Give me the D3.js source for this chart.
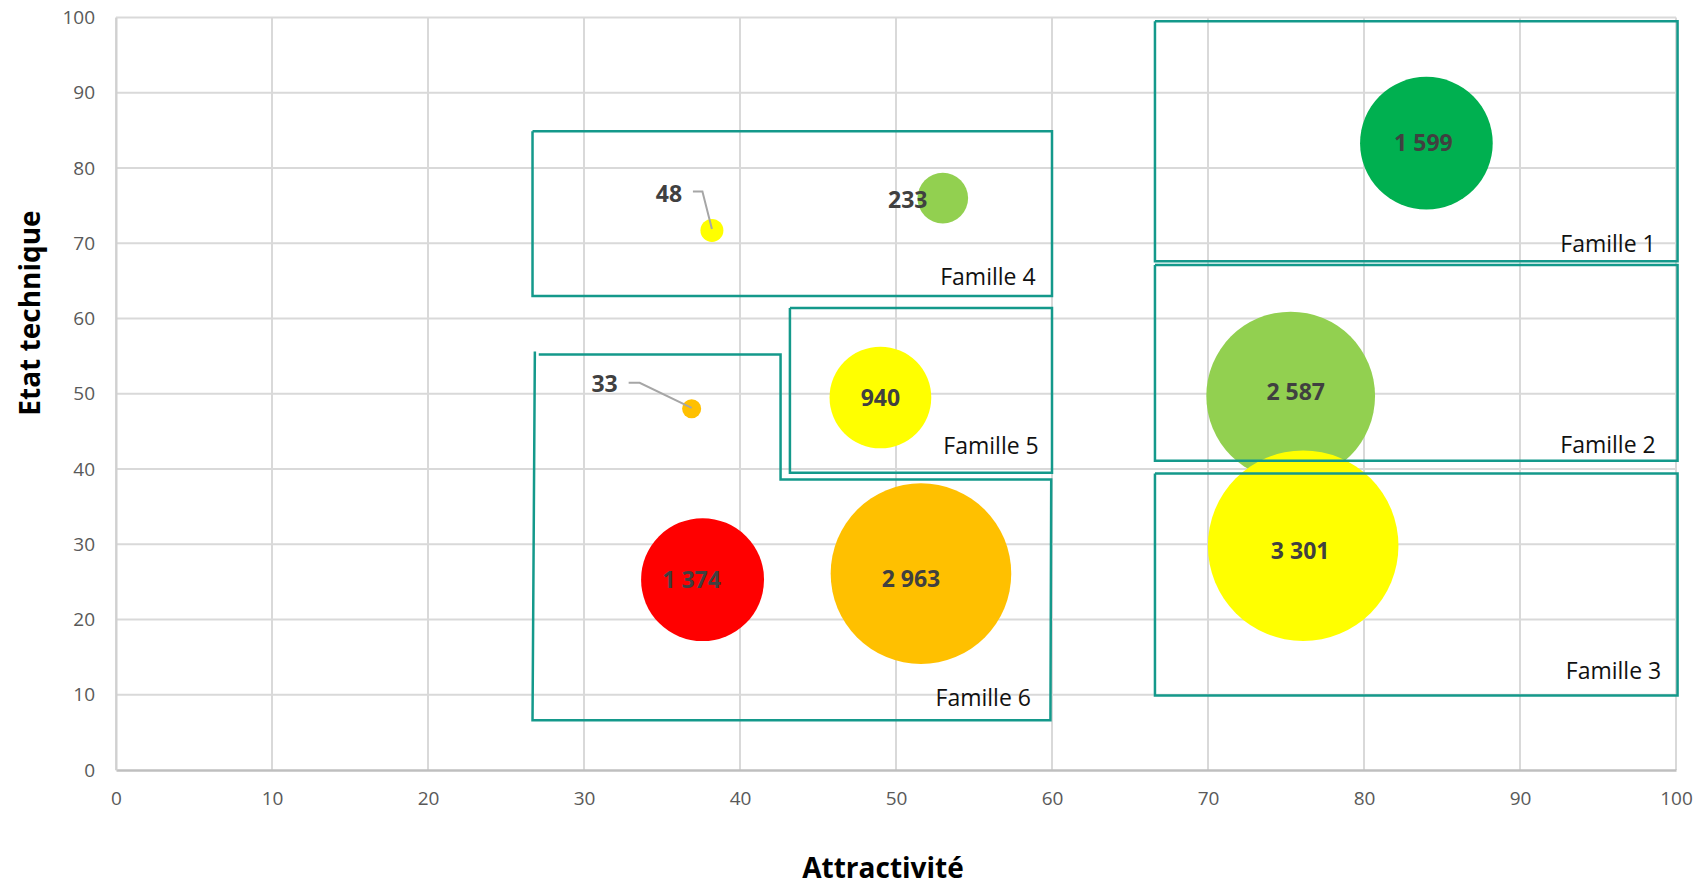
<!DOCTYPE html>
<html>
<head>
<meta charset="utf-8">
<script src="https://cdn.jsdelivr.net/npm/d3@7"></script>
<style>
  body { margin: 0; background: #fff; }
  svg { display: block; font-family: "Open Sans", "Noto Sans", sans-serif; }
</style>
</head>
<body>
<div id="chart"></div>
<script>
// bubble data: attractivité, état technique, volume
var bubbleLabels = ["1 599", "2 587", "3 301", "233", "48", "940", "33", "1 374", "2 963"];
var attractivite = [84.0, 75.3, 76.1, 53.0, 38.2, 49.0, 36.9, 37.6, 51.6];
var etatTechnique = [83.3, 49.7, 29.8, 76.0, 71.7, 49.5, 48.0, 25.3, 26.1];
var volumes = [1599, 2587, 3301, 233, 48, 940, 33, 1374, 2963];
var bubbleColors = ["#00B050", "#92D050", "#FFFF00", "#92D050", "#FFFF00", "#FFFF00", "#FFC000", "#FF0000", "#FFC000"];

var xTicks = [0, 10, 20, 30, 40, 50, 60, 70, 80, 90, 100];
var yTicks = [0, 10, 20, 30, 40, 50, 60, 70, 80, 90, 100];

// family outlines, in chart units (x, y)
var familyNames = ["Famille 1", "Famille 2", "Famille 3", "Famille 4", "Famille 5", "Famille 6"];
var familyShapes = [
    [[66.6, 99.5], [100.1, 99.5], [100.1, 67.6], [66.6, 67.6], [66.6, 99.5]],
    [[66.6, 67.1], [100.1, 67.1], [100.1, 41.1], [66.6, 41.1], [66.6, 67.1]],
    [[66.6, 39.4], [100.1, 39.4], [100.1, 9.9], [66.6, 9.9], [66.6, 39.4]],
    [[26.7, 84.9], [60.0, 84.9], [60.0, 63.0], [26.7, 63.0], [26.7, 84.9]],
    [[43.2, 61.4], [60.0, 61.4], [60.0, 39.5], [43.2, 39.5], [43.2, 61.4]],
    [[26.85, 55.6], [26.7, 6.6], [59.9, 6.6], [59.95, 38.6], [42.6, 38.6], [42.6, 55.2], [27.1, 55.2]]
];
var familyLabelX = [98.7, 98.7, 99.05, 58.95, 59.15, 58.65];
var familyLabelY = [68.8, 42.1, 12.05, 64.45, 41.95, 8.55];

var width = 1699, height = 888;
var margin = {left: 116, right: 23, top: 17.5, bottom: 118};

var svg = d3.select("#chart")
    .append("svg")
        .attr("width", width)
        .attr("height", height);

var x = d3.scaleLinear().domain([0, 100]).range([margin.left, width - margin.right]);
var y = d3.scaleLinear().domain([0, 100]).range([height - margin.bottom, margin.top]);
var r = d3.scaleSqrt().domain([0, 3301]).range([0, 95.3]);

// gridlines
svg.append("g")
    .selectAll("line")
    .data(yTicks.filter(d => d > 0))
    .enter()
    .append("line")
    .attr("x1", x(0))
    .attr("x2", x(100))
    .attr("y1", d => y(d))
    .attr("y2", d => y(d))
    .style("stroke", "#d9d9d9")
    .style("stroke-width", 2);

svg.append("g")
    .selectAll("line")
    .data(xTicks)
    .enter()
    .append("line")
    .attr("x1", d => x(d))
    .attr("x2", d => x(d))
    .attr("y1", y(0))
    .attr("y2", y(100))
    .style("stroke", "#d9d9d9")
    .style("stroke-width", 2);

// axes (no tick marks, just the labels)
var xAxis = svg.append("g")
    .attr("transform", "translate(0," + y(0) + ")")
    .call(d3.axisBottom(x).tickValues(xTicks).tickSize(0).tickPadding(22));
xAxis.select(".domain").style("stroke", "#bfbfbf").style("stroke-width", 2.5);
xAxis.selectAll("text")
    .style("font-size", "19px")
    .style("font-family", "'Open Sans', sans-serif")
    .style("fill", "#595959");

var yAxis = svg.append("g")
    .attr("transform", "translate(" + x(0) + ",0)")
    .call(d3.axisLeft(y).tickValues(yTicks).tickSize(0).tickPadding(21));
yAxis.select(".domain").style("stroke", "#d0d0d0").style("stroke-width", 2);
yAxis.selectAll("text")
    .style("font-size", "19px")
    .style("font-family", "'Open Sans', sans-serif")
    .style("fill", "#595959");

// bubbles
var bubbles = d3.range(volumes.length).map(function(i) {
    return {
        label: bubbleLabels[i],
        x: attractivite[i],
        y: etatTechnique[i],
        v: volumes[i],
        color: bubbleColors[i]
    };
});

svg.append("g")
    .selectAll("circle")
    .data(bubbles)
    .enter()
    .append("circle")
    .attr("cx", d => x(d.x))
    .attr("cy", d => y(d.y))
    .attr("r", d => r(d.v))
    .style("fill", d => d.color);

// label nudges (px); small bubbles get their label pulled out with a leader line
var labelPlace = {
    "1 599": {dx: -3, dy: 0},
    "2 587": {dx: 5, dy: -4},
    "3 301": {dx: -3, dy: 5.5},
    "1 374": {dx: -11, dy: 0},
    "2 963": {dx: -10, dy: 5.5},
    "48": {dx: -43, dy: -37, line: [[-19, -39], [-9.5, -39], [0, -1.5]]},
    "33": {dx: -87, dy: -25, line: [[-63, -26], [-52, -26], [0, -1]]},
    "233": {dx: -35, dy: 1.5}
};

svg.append("g")
    .selectAll("path")
    .data(bubbles.filter(d => labelPlace[d.label] && labelPlace[d.label].line))
    .enter()
    .append("path")
    .attr("d", function(d) {
        var cx = x(d.x), cy = y(d.y);
        return d3.line()(labelPlace[d.label].line.map(p => [cx + p[0], cy + p[1]]));
    })
    .style("fill", "none")
    .style("stroke", "#a6a6a6")
    .style("stroke-width", 2);

svg.append("g")
    .selectAll("text")
    .data(bubbles)
    .enter()
    .append("text")
    .text(d => d.label)
    .attr("x", function(d) {
        var o = labelPlace[d.label];
        return x(d.x) + (o ? o.dx : 0);
    })
    .attr("y", function(d) {
        var o = labelPlace[d.label];
        return y(d.y) + (o ? o.dy : 0);
    })
    .attr("dy", "0.35em")
    .style("text-anchor", "middle")
    .style("font-size", "23px")
    .style("font-weight", "bold")
    .style("fill", "#404040");

// family outlines on top
svg.append("g")
    .selectAll("path")
    .data(familyShapes)
    .enter()
    .append("path")
    .attr("d", d => d3.line()(d.map(p => [x(p[0]), y(p[1])])))
    .style("fill", "none")
    .style("stroke", "#14998b")
    .style("stroke-width", 2.5);

svg.append("g")
    .selectAll("text")
    .data(familyNames)
    .enter()
    .append("text")
    .text(d => d)
    .attr("x", (d, i) => x(familyLabelX[i]))
    .attr("y", (d, i) => y(familyLabelY[i]))
    .style("text-anchor", "end")
    .style("font-size", "23px")
    .style("fill", "#111");

// axis titles
svg.append("text")
    .attr("transform", "translate(" + 883 + "," + 868 + ")")
    .attr("dy", "0.35em")
    .style("text-anchor", "middle")
    .style("font-size", "28px")
    .style("font-weight", "bold")
    .style("fill", "#000")
    .text("Attractivité");

svg.append("text")
    .attr("transform", "translate(" + 30 + "," + 313 + ") rotate(-90)")
    .attr("dy", "0.35em")
    .style("text-anchor", "middle")
    .style("font-size", "28px")
    .style("font-weight", "bold")
    .style("fill", "#000")
    .text("Etat technique");
</script>
</body>
</html>
